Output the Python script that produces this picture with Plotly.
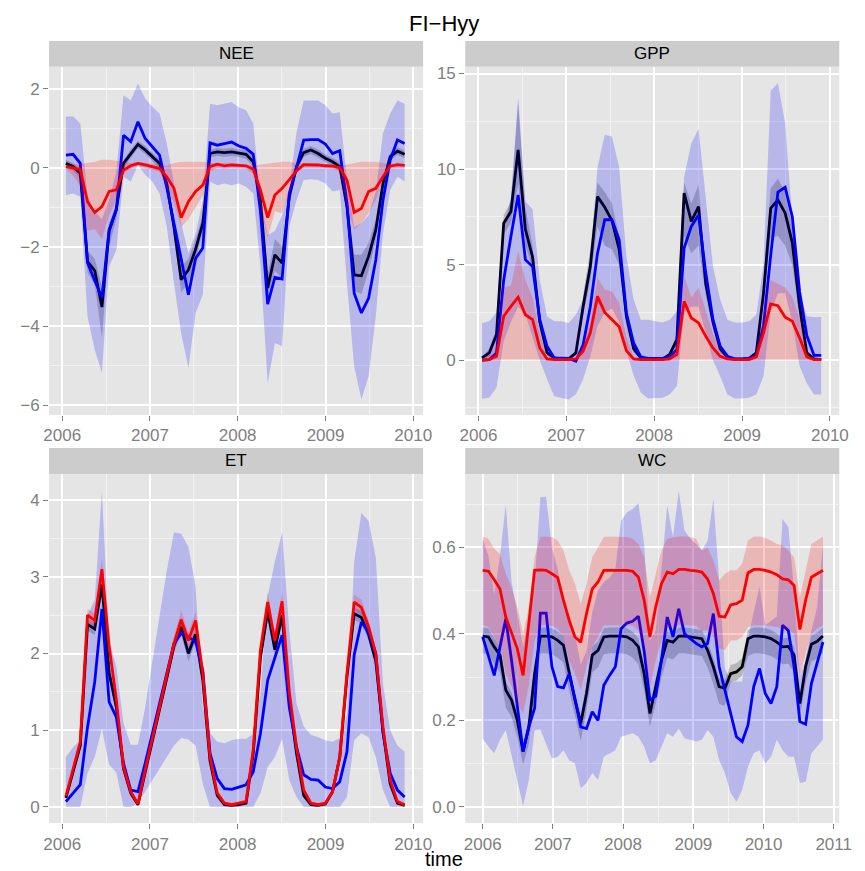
import plotly.graph_objects as go
import pandas as pd

# ---------------- time axes ----------------
t_flux = pd.date_range("2006-01-16", periods=48, freq="30D")
t_wc = pd.date_range("2006-01-01", periods=60, freq="30D")

# ---------------- NEE ----------------
NEE_black = [0.11, 0.03, -0.14, -2.37, -2.6, -3.52, -1.6, -1.05, 0.11, 0.36, 0.59, 0.45, 0.28, 0.11, -0.4, -1.5, -2.83, -2.58, -2.06, -1.4, 0.36, 0.4, 0.38, 0.4, 0.37, 0.34, 0.15, -0.82, -3.04, -2.2, -2.41, -0.73, 0.03, 0.38, 0.45, 0.36, 0.24, 0.15, 0.03, -0.98, -2.71, -2.73, -2.24, -1.57, -0.4, 0.28, 0.42, 0.34]
NEE_black_hi = [0.2, 0.12, -0.02, -2.1, -2.3, -3.0, -1.4, -0.9, 0.2, 0.46, 0.68, 0.55, 0.38, 0.22, -0.25, -1.3, -2.5, -2.3, -1.8, -1.2, 0.46, 0.5, 0.48, 0.5, 0.47, 0.44, 0.27, -0.65, -2.7, -1.8, -2.0, -0.55, 0.13, 0.48, 0.55, 0.46, 0.34, 0.25, 0.15, -0.8, -2.2, -2.2, -1.9, -1.3, -0.28, 0.38, 0.52, 0.44]
NEE_black_lo = [0.0, -0.07, -0.28, -2.65, -2.95, -4.3, -2.0, -1.3, 0.0, 0.26, 0.49, 0.35, 0.17, -0.01, -0.6, -1.75, -3.15, -2.9, -2.35, -1.6, 0.26, 0.3, 0.28, 0.3, 0.27, 0.22, 0.03, -1.0, -3.3, -2.6, -2.8, -0.95, -0.08, 0.28, 0.35, 0.26, 0.14, 0.05, -0.1, -1.2, -3.1, -3.2, -2.6, -1.85, -0.55, 0.18, 0.32, 0.24]
NEE_blue = [0.32, 0.34, 0.11, -2.4, -2.85, -3.28, -1.57, -1.07, 0.82, 0.66, 1.16, 0.74, 0.53, 0.32, -0.5, -1.4, -2.3, -3.21, -2.29, -2.03, 0.63, 0.57, 0.61, 0.65, 0.55, 0.49, 0.34, -1.1, -3.45, -2.77, -2.81, -0.65, 0.0, 0.7, 0.71, 0.71, 0.6, 0.36, 0.43, -0.9, -3.17, -3.67, -3.3, -2.33, -0.82, 0.19, 0.7, 0.61]
NEE_blue_hi = [1.29, 1.3, 1.12, -0.7, -1.1, -1.3, -0.8, -0.1, 1.83, 1.7, 2.13, 1.75, 1.54, 1.37, 0.61, -0.4, -1.4, -2.16, -1.66, -0.82, 1.62, 1.58, 1.62, 1.66, 1.52, 1.45, 1.12, -0.8, -1.7, -1.6, -1.2, -0.5, 0.9, 1.7, 1.7, 1.7, 1.58, 1.37, 1.4, -0.3, -1.5, -1.4, -1.2, -0.6, 0.87, 1.37, 1.7, 1.62]
NEE_blue_lo = [-0.69, -0.65, -0.73, -3.76, -4.6, -5.19, -2.5, -2.08, -0.23, -0.35, 0.07, -0.18, -0.35, -0.65, -1.49, -2.92, -4.18, -5.06, -3.68, -3.2, -0.35, -0.44, -0.4, -0.44, -0.4, -0.48, -0.65, -2.5, -5.44, -4.43, -4.51, -1.49, -0.82, -0.31, -0.29, -0.31, -0.4, -0.6, -0.56, -2.92, -5.02, -5.86, -5.27, -3.76, -1.66, -0.56, -0.23, -0.35]
NEE_red = [0.03, 0.0, -0.04, -0.86, -1.13, -0.98, -0.6, -0.56, -0.06, 0.05, 0.11, 0.07, 0.03, -0.02, -0.23, -0.52, -1.26, -0.86, -0.6, -0.44, 0.03, 0.09, 0.05, 0.07, 0.06, 0.05, -0.04, -0.56, -1.26, -0.69, -0.52, -0.31, -0.08, 0.08, 0.08, 0.07, 0.05, 0.04, 0.0, -0.31, -1.13, -1.03, -0.6, -0.52, -0.23, 0.04, 0.08, 0.06]
NEE_red_hi = [0.05, 0.08, 0.1, 0.12, 0.15, 0.2, 0.2, 0.18, 0.15, 0.12, 0.15, 0.12, 0.1, 0.08, 0.05, 0.12, 0.15, 0.15, 0.15, 0.15, 0.12, 0.12, 0.12, 0.12, 0.1, 0.08, 0.05, 0.08, 0.1, 0.12, 0.15, 0.15, 0.12, 0.12, 0.1, 0.1, 0.1, 0.08, 0.05, 0.08, 0.12, 0.15, 0.15, 0.15, 0.12, 0.1, 0.1, 0.08]
NEE_red_lo = [-0.02, -0.2, -0.45, -1.6, -1.55, -1.8, -1.2, -0.8, -0.15, -0.02, 0.05, 0.0, -0.05, -0.1, -0.5, -0.9, -1.5, -1.3, -1.0, -0.7, -0.1, 0.0, -0.02, 0.0, 0.0, -0.02, -0.15, -0.98, -1.78, -1.1, -1.15, -0.65, -0.1, 0.0, 0.0, 0.0, 0.0, -0.02, -0.1, -0.98, -1.57, -1.4, -1.15, -0.82, -0.3, -0.02, 0.0, 0.0]

# ---------------- GPP ----------------
GPP_black = [0.12, 0.38, 1.34, 7.17, 7.78, 11.0, 6.85, 5.4, 2.0, 0.4, 0.12, 0.07, 0.07, 0.38, 2.8, 4.9, 8.56, 8.0, 7.3, 5.8, 2.3, 0.6, 0.12, 0.05, 0.05, 0.05, 0.3, 1.08, 8.74, 7.26, 8.04, 4.0, 2.0, 0.6, 0.15, 0.05, 0.05, 0.1, 0.38, 3.5, 7.95, 8.39, 7.7, 6.13, 2.82, 0.38, 0.07, 0.03]
GPP_black_hi = [0.2, 0.6, 1.6, 7.6, 8.3, 13.5, 8.0, 6.0, 2.4, 0.55, 0.2, 0.12, 0.12, 0.5, 3.4, 5.8, 9.3, 8.8, 8.2, 6.5, 2.8, 0.8, 0.2, 0.1, 0.1, 0.1, 0.4, 1.4, 9.3, 8.2, 9.2, 4.6, 2.4, 0.8, 0.2, 0.1, 0.1, 0.15, 0.5, 4.0, 9.0, 9.5, 8.8, 7.0, 3.3, 0.5, 0.12, 0.08]
GPP_black_lo = [0.05, 0.2, 1.0, 6.6, 7.2, 9.2, 6.0, 4.8, 1.6, 0.25, 0.05, 0.02, 0.02, 0.25, 2.3, 4.2, 7.0, 6.0, 5.8, 5.0, 1.8, 0.4, 0.05, 0.01, 0.01, 0.01, 0.2, 0.8, 6.5, 5.6, 6.0, 3.4, 1.6, 0.4, 0.1, 0.01, 0.01, 0.05, 0.25, 3.0, 6.4, 6.5, 6.0, 5.0, 2.3, 0.25, 0.02, 0.0]
GPP_blue = [0.0, 0.03, 0.38, 4.2, 6.47, 8.65, 5.26, 4.9, 2.12, 0.73, 0.12, 0.1, 0.09, -0.05, 0.8, 2.8, 5.6, 7.35, 7.35, 6.3, 2.47, 0.9, 0.17, 0.09, 0.09, 0.09, 0.17, 0.56, 5.87, 7.0, 7.6, 4.56, 2.12, 0.73, 0.21, 0.07, 0.07, 0.09, 0.21, 1.8, 5.5, 8.8, 9.05, 7.5, 3.6, 1.3, 0.25, 0.25]
GPP_blue_hi = [1.95, 2.04, 2.5, 7.0, 8.5, 13.8, 8.3, 7.9, 4.2, 2.3, 2.04, 2.04, 1.95, 2.38, 3.17, 5.26, 10.1, 11.8, 11.7, 10.1, 5.43, 3.17, 2.12, 2.12, 2.04, 1.97, 2.12, 2.56, 9.6, 11.35, 12.1, 8.4, 4.9, 3.17, 2.12, 1.97, 1.97, 2.04, 2.38, 5.0, 14.1, 14.5, 12.4, 7.35, 3.5, 2.3, 2.26, 2.26]
GPP_blue_lo = [-2.02, -1.97, -1.44, 1.0, 2.0, 2.8, 2.4, 1.2, 0.0, -1.0, -1.88, -1.95, -2.05, -1.8, -1.0, 0.2, 1.8, 2.5, 2.7, 2.0, 0.5, -0.8, -1.7, -2.0, -1.97, -1.97, -1.8, -1.36, 2.5, 2.8, 2.8, 1.4, 0.0, -0.84, -1.8, -2.0, -2.0, -1.97, -1.8, -0.84, 2.5, 3.5, 3.5, 2.0, -0.3, -1.2, -1.8, -1.8]
GPP_red = [0.0, 0.03, 0.2, 2.3, 2.82, 3.3, 2.38, 2.12, 0.64, 0.07, 0.03, 0.03, 0.03, 0.07, 0.47, 1.43, 3.34, 2.5, 2.1, 1.75, 0.5, 0.07, 0.03, 0.03, 0.03, 0.03, 0.07, 0.3, 3.08, 2.21, 1.95, 1.25, 0.64, 0.2, 0.07, 0.03, 0.03, 0.03, 0.17, 1.43, 2.94, 2.85, 2.25, 2.04, 1.17, 0.17, 0.03, 0.03]
GPP_red_hi = [0.05, 0.3, 0.8, 3.8, 3.9, 5.7, 4.2, 3.3, 1.4, 0.2, 0.05, 0.05, 0.05, 0.15, 0.8, 2.0, 4.3, 3.7, 3.6, 3.0, 1.2, 0.2, 0.05, 0.05, 0.05, 0.05, 0.15, 0.8, 4.4, 3.3, 3.8, 2.6, 1.4, 0.5, 0.1, 0.05, 0.05, 0.05, 0.5, 2.5, 4.2, 4.0, 3.8, 3.3, 2.2, 0.4, 0.05, 0.05]
GPP_red_lo = [0.0, 0.0, 0.0, 0.0, 0.0, 0.0, 0.0, 0.0, 0.0, 0.0, 0.0, 0.0, 0.0, 0.0, 0.0, 0.0, 0.0, 0.0, 0.0, 0.0, 0.0, 0.0, 0.0, 0.0, 0.0, 0.0, 0.0, 0.0, 0.0, 0.0, 0.0, 0.0, 0.0, 0.0, 0.0, 0.0, 0.0, 0.0, 0.0, 0.0, 0.0, 0.0, 0.0, 0.0, 0.0, 0.0, 0.0, 0.0]

# ---------------- ET ----------------
ET_black = [0.12, 0.45, 0.8, 2.38, 2.32, 2.9, 1.75, 1.3, 0.5, 0.18, 0.03, 0.45, 0.88, 1.27, 1.68, 2.1, 2.35, 2.0, 2.25, 1.65, 0.6, 0.15, 0.03, 0.02, 0.03, 0.05, 0.7, 1.95, 2.55, 2.05, 2.5, 1.4, 0.7, 0.15, 0.03, 0.02, 0.04, 0.2, 0.65, 1.7, 2.52, 2.47, 2.25, 1.9, 1.0, 0.3, 0.05, 0.02]
ET_black_hi = [0.15, 0.5, 0.85, 2.45, 2.4, 3.0, 1.85, 1.38, 0.55, 0.2, 0.05, 0.5, 0.93, 1.33, 1.75, 2.18, 2.45, 2.1, 2.35, 1.72, 0.65, 0.18, 0.05, 0.03, 0.05, 0.07, 0.75, 2.02, 2.65, 2.15, 2.6, 1.48, 0.75, 0.18, 0.05, 0.03, 0.05, 0.23, 0.7, 1.77, 2.6, 2.55, 2.33, 1.97, 1.05, 0.33, 0.07, 0.03]
ET_black_lo = [0.09, 0.4, 0.75, 2.3, 2.24, 2.8, 1.65, 1.22, 0.45, 0.15, 0.01, 0.4, 0.83, 1.21, 1.61, 2.02, 2.25, 1.9, 2.15, 1.58, 0.55, 0.12, 0.01, 0.01, 0.01, 0.03, 0.65, 1.88, 2.45, 1.95, 2.4, 1.32, 0.65, 0.12, 0.01, 0.01, 0.03, 0.17, 0.6, 1.63, 2.44, 2.39, 2.17, 1.83, 0.95, 0.27, 0.03, 0.01]
ET_blue = [0.07, 0.18, 0.29, 1.04, 1.63, 2.58, 1.37, 1.17, 0.57, 0.22, 0.2, 0.57, 0.96, 1.35, 1.74, 2.13, 2.26, 2.22, 2.15, 1.78, 0.7, 0.37, 0.24, 0.23, 0.26, 0.29, 0.46, 0.96, 1.65, 1.93, 2.24, 1.3, 0.78, 0.42, 0.36, 0.35, 0.26, 0.24, 0.33, 0.72, 1.98, 2.41, 2.28, 2.0, 0.96, 0.44, 0.22, 0.13]
ET_blue_hi = [0.65, 0.78, 0.87, 2.5, 2.7, 4.12, 2.17, 1.83, 1.09, 0.81, 0.81, 1.3, 1.9, 2.52, 3.08, 3.58, 3.56, 3.39, 2.87, 1.3, 0.96, 0.85, 0.83, 0.87, 0.89, 0.89, 0.95, 1.5, 2.75, 3.2, 3.58, 2.3, 1.35, 1.05, 0.94, 0.91, 0.87, 0.85, 0.9, 1.2, 3.2, 3.83, 3.73, 3.25, 1.6, 1.0, 0.8, 0.72]
ET_blue_lo = [0.0, 0.0, 0.0, 0.44, 0.65, 1.02, 0.55, 0.45, 0.0, 0.0, 0.05, 0.2, 0.35, 0.5, 0.65, 0.8, 0.9, 0.88, 0.8, 0.3, 0.0, 0.0, 0.0, 0.0, 0.0, 0.0, 0.0, 0.18, 0.52, 0.65, 0.89, 0.35, 0.13, 0.0, 0.0, 0.0, 0.0, 0.0, 0.0, 0.13, 0.87, 0.96, 0.91, 0.65, 0.22, 0.0, 0.0, 0.0]
ET_red = [0.14, 0.5, 0.85, 2.5, 2.43, 3.1, 2.1, 1.4, 0.52, 0.2, 0.04, 0.48, 0.91, 1.3, 1.72, 2.13, 2.44, 2.17, 2.43, 1.74, 0.65, 0.18, 0.05, 0.03, 0.05, 0.07, 0.75, 2.05, 2.67, 2.17, 2.68, 1.5, 0.78, 0.22, 0.05, 0.03, 0.05, 0.2, 0.65, 1.74, 2.67, 2.6, 2.35, 2.0, 1.04, 0.35, 0.07, 0.03]
ET_red_hi = [0.17, 0.55, 0.9, 2.58, 2.52, 3.25, 2.2, 1.47, 0.57, 0.23, 0.06, 0.52, 0.96, 1.36, 1.79, 2.22, 2.56, 2.27, 2.55, 1.82, 0.7, 0.21, 0.07, 0.05, 0.07, 0.1, 0.8, 2.13, 2.8, 2.27, 2.8, 1.58, 0.83, 0.25, 0.07, 0.05, 0.07, 0.23, 0.7, 1.82, 2.77, 2.7, 2.43, 2.07, 1.1, 0.38, 0.09, 0.05]
ET_red_lo = [0.11, 0.45, 0.8, 2.42, 2.34, 2.95, 2.0, 1.33, 0.47, 0.17, 0.02, 0.44, 0.86, 1.24, 1.65, 2.04, 2.32, 2.07, 2.31, 1.66, 0.6, 0.15, 0.03, 0.01, 0.03, 0.04, 0.7, 1.97, 2.54, 2.07, 2.56, 1.42, 0.73, 0.19, 0.03, 0.01, 0.03, 0.17, 0.6, 1.66, 2.57, 2.5, 2.27, 1.93, 0.98, 0.32, 0.05, 0.01]

# ---------------- WC ----------------
WC_black = [0.395, 0.393, 0.37, 0.351, 0.27, 0.247, 0.2, 0.128, 0.185, 0.308, 0.395, 0.395, 0.393, 0.385, 0.374, 0.308, 0.247, 0.193, 0.262, 0.351, 0.362, 0.393, 0.395, 0.395, 0.395, 0.393, 0.385, 0.37, 0.308, 0.216, 0.278, 0.339, 0.385, 0.381, 0.395, 0.395, 0.393, 0.391, 0.389, 0.362, 0.324, 0.278, 0.274, 0.308, 0.312, 0.324, 0.389, 0.395, 0.395, 0.393, 0.389, 0.381, 0.37, 0.371, 0.351, 0.239, 0.324, 0.376, 0.383, 0.395]
WC_black_hi = [0.415, 0.413, 0.39, 0.37, 0.29, 0.265, 0.22, 0.145, 0.205, 0.328, 0.415, 0.415, 0.413, 0.405, 0.395, 0.328, 0.267, 0.213, 0.282, 0.371, 0.382, 0.413, 0.415, 0.415, 0.415, 0.413, 0.405, 0.39, 0.328, 0.236, 0.298, 0.359, 0.405, 0.401, 0.415, 0.415, 0.413, 0.411, 0.409, 0.382, 0.344, 0.298, 0.294, 0.328, 0.332, 0.344, 0.409, 0.415, 0.415, 0.413, 0.409, 0.401, 0.39, 0.391, 0.371, 0.259, 0.344, 0.396, 0.403, 0.415]
WC_black_lo = [0.355, 0.353, 0.33, 0.311, 0.23, 0.207, 0.16, 0.098, 0.145, 0.268, 0.355, 0.355, 0.353, 0.345, 0.334, 0.268, 0.207, 0.153, 0.222, 0.311, 0.322, 0.353, 0.355, 0.355, 0.355, 0.353, 0.345, 0.33, 0.268, 0.186, 0.238, 0.299, 0.345, 0.341, 0.355, 0.355, 0.353, 0.351, 0.349, 0.322, 0.284, 0.238, 0.234, 0.288, 0.292, 0.304, 0.349, 0.355, 0.355, 0.353, 0.349, 0.341, 0.33, 0.331, 0.311, 0.209, 0.284, 0.336, 0.343, 0.355]
WC_blue = [0.393, 0.351, 0.304, 0.37, 0.435, 0.339, 0.231, 0.128, 0.185, 0.228, 0.448, 0.448, 0.324, 0.278, 0.275, 0.308, 0.25, 0.185, 0.181, 0.22, 0.2, 0.281, 0.304, 0.324, 0.412, 0.425, 0.429, 0.441, 0.36, 0.247, 0.256, 0.339, 0.439, 0.393, 0.458, 0.4, 0.389, 0.378, 0.37, 0.378, 0.447, 0.324, 0.27, 0.216, 0.162, 0.151, 0.189, 0.278, 0.32, 0.262, 0.239, 0.278, 0.42, 0.408, 0.324, 0.197, 0.191, 0.285, 0.331, 0.381]
WC_blue_hi = [0.62, 0.58, 0.49, 0.58, 0.7, 0.52, 0.447, 0.37, 0.44, 0.516, 0.716, 0.717, 0.6, 0.55, 0.48, 0.44, 0.4, 0.33, 0.36, 0.45, 0.5, 0.52, 0.53, 0.55, 0.662, 0.681, 0.689, 0.702, 0.608, 0.385, 0.408, 0.55, 0.697, 0.624, 0.731, 0.639, 0.62, 0.608, 0.593, 0.616, 0.712, 0.524, 0.32, 0.29, 0.29, 0.29, 0.39, 0.45, 0.51, 0.42, 0.43, 0.44, 0.666, 0.647, 0.5, 0.3, 0.339, 0.408, 0.462, 0.608]
WC_blue_lo = [0.158, 0.139, 0.124, 0.155, 0.178, 0.12, 0.062, 0.002, 0.062, 0.178, 0.179, 0.147, 0.112, 0.116, 0.131, 0.108, 0.1, 0.043, 0.055, 0.078, 0.062, 0.116, 0.124, 0.131, 0.162, 0.166, 0.17, 0.162, 0.139, 0.1, 0.108, 0.139, 0.17, 0.162, 0.181, 0.158, 0.155, 0.151, 0.155, 0.178, 0.162, 0.108, 0.078, 0.032, 0.012, 0.039, 0.093, 0.124, 0.131, 0.1, 0.116, 0.155, 0.131, 0.116, 0.116, 0.055, 0.058, 0.124, 0.139, 0.155]
WC_red = [0.547, 0.545, 0.525, 0.504, 0.439, 0.4, 0.366, 0.304, 0.424, 0.547, 0.548, 0.547, 0.539, 0.53, 0.478, 0.431, 0.393, 0.381, 0.447, 0.504, 0.52, 0.547, 0.547, 0.547, 0.547, 0.547, 0.545, 0.531, 0.478, 0.393, 0.462, 0.516, 0.543, 0.539, 0.549, 0.549, 0.547, 0.546, 0.543, 0.527, 0.493, 0.441, 0.439, 0.467, 0.47, 0.478, 0.541, 0.549, 0.549, 0.547, 0.543, 0.537, 0.527, 0.525, 0.512, 0.41, 0.478, 0.531, 0.539, 0.547]
WC_red_hi = [0.625, 0.62, 0.597, 0.585, 0.539, 0.508, 0.462, 0.4, 0.462, 0.577, 0.624, 0.625, 0.624, 0.616, 0.593, 0.547, 0.516, 0.47, 0.516, 0.577, 0.6, 0.624, 0.625, 0.625, 0.625, 0.624, 0.62, 0.608, 0.577, 0.485, 0.539, 0.593, 0.62, 0.622, 0.625, 0.625, 0.624, 0.62, 0.593, 0.6, 0.57, 0.524, 0.539, 0.547, 0.547, 0.562, 0.616, 0.625, 0.625, 0.622, 0.616, 0.608, 0.605, 0.593, 0.577, 0.485, 0.547, 0.608, 0.616, 0.625]
WC_red_lo = [0.42, 0.416, 0.393, 0.37, 0.308, 0.278, 0.239, 0.216, 0.28, 0.385, 0.42, 0.42, 0.418, 0.412, 0.393, 0.339, 0.308, 0.27, 0.324, 0.37, 0.393, 0.42, 0.42, 0.42, 0.42, 0.42, 0.418, 0.408, 0.37, 0.278, 0.339, 0.385, 0.414, 0.416, 0.42, 0.42, 0.42, 0.418, 0.408, 0.408, 0.393, 0.366, 0.362, 0.385, 0.385, 0.393, 0.416, 0.42, 0.42, 0.42, 0.418, 0.416, 0.412, 0.41, 0.4, 0.3, 0.354, 0.4, 0.412, 0.42]

# ---------------- tick labels ----------------
year_ticks_4 = ["2006", "2007", "2008", "2009", "2010"]
year_ticks_5 = ["2006", "2007", "2008", "2009", "2010", "2011"]
NEE_yticks = [-6, -4, -2, 0, 2]
GPP_yticks = [0, 5, 10, 15]
ET_yticks = [0, 1, 2, 3, 4]
WC_yticks = [0.0, 0.2, 0.4, 0.6]

panels = [
    dict(name="NEE", t=t_flux, k="", black=NEE_black, bhi=NEE_black_hi, blo=NEE_black_lo,
         blue=NEE_blue, uhi=NEE_blue_hi, ulo=NEE_blue_lo, red=NEE_red, rhi=NEE_red_hi, rlo=NEE_red_lo),
    dict(name="GPP", t=t_flux, k="2", black=GPP_black, bhi=GPP_black_hi, blo=GPP_black_lo,
         blue=GPP_blue, uhi=GPP_blue_hi, ulo=GPP_blue_lo, red=GPP_red, rhi=GPP_red_hi, rlo=GPP_red_lo),
    dict(name="ET", t=t_flux, k="3", black=ET_black, bhi=ET_black_hi, blo=ET_black_lo,
         blue=ET_blue, uhi=ET_blue_hi, ulo=ET_blue_lo, red=ET_red, rhi=ET_red_hi, rlo=ET_red_lo),
    dict(name="WC", t=t_wc, k="4", black=WC_black, bhi=WC_black_hi, blo=WC_black_lo,
         blue=WC_blue, uhi=WC_blue_hi, ulo=WC_blue_lo, red=WC_red, rhi=WC_red_hi, rlo=WC_red_lo),
]

for p in panels:
    n = len(p["t"])
    for key in ["black", "bhi", "blo", "blue", "uhi", "ulo", "red", "rhi", "rlo"]:
        assert len(p[key]) == n, (p["name"], key, len(p[key]))

fig = go.Figure()


def ribbon(t, lo, hi, color, k):
    xs = list(t) + list(t[::-1])
    ys = list(hi) + list(lo[::-1])
    return go.Scatter(x=xs, y=ys, fill="toself", fillcolor=color, mode="lines",
                      line=dict(width=0, color=color), hoverinfo="skip", showlegend=False,
                      xaxis="x" + k, yaxis="y" + k)


def line(t, y, color, k):
    return go.Scatter(x=list(t), y=y, mode="lines", line=dict(color=color, width=2.8),
                      showlegend=False, xaxis="x" + k, yaxis="y" + k)


for p in panels:
    k, t = p["k"], p["t"]
    fig.add_trace(ribbon(t, p["blo"], p["bhi"], "rgba(0,0,0,0.2)", k))
    fig.add_trace(line(t, p["black"], "black", k))
    fig.add_trace(ribbon(t, p["ulo"], p["uhi"], "rgba(0,0,255,0.2)", k))
    fig.add_trace(line(t, p["blue"], "#0000FF", k))
    fig.add_trace(ribbon(t, p["rlo"], p["rhi"], "rgba(255,0,0,0.2)", k))
    fig.add_trace(line(t, p["red"], "#FF0000", k))

W, H = 865, 871


def xd(a, b):
    return [a / W, b / W]


def yd(top, bottom):
    return [1 - bottom / H, 1 - top / H]


TICKC = "#7F7F7F"
common_x = dict(type="date", showgrid=True, gridcolor="white", gridwidth=1.6, zeroline=False,
                showline=False, ticks="outside", ticklen=5, tickwidth=1, tickcolor=TICKC,
                tickfont=dict(size=17, color=TICKC), fixedrange=True)
common_y = dict(showgrid=True, gridcolor="white", gridwidth=1.6, zeroline=False, showline=False,
                ticks="outside", ticklen=5, tickwidth=1, tickcolor=TICKC,
                tickfont=dict(size=17, color=TICKC), fixedrange=True)

yr4 = ["2006-01-01", "2007-01-01", "2008-01-01", "2009-01-01", "2010-01-01"]
yr5 = yr4 + ["2011-01-01"]
mid4 = ["2006-07-02", "2007-07-02", "2008-07-02", "2009-07-02"]
mid5 = mid4 + ["2010-07-02"]

minor_style = dict(showgrid=True, gridcolor="#F2F2F2", gridwidth=0.8, ticks="")

fig.update_layout(
    width=W, height=H, margin=dict(l=0, r=0, t=0, b=0),
    paper_bgcolor="white", plot_bgcolor="#E5E5E5", showlegend=False,
    font=dict(family="Liberation Sans, Arial, sans-serif"),
    xaxis=dict(common_x, domain=xd(45, 427), range=["2005-11-07", "2010-02-11"], anchor="y",
               tickvals=yr4, ticktext=year_ticks_4, minor=dict(minor_style, tickvals=mid4)),
    yaxis=dict(common_y, domain=yd(65, 414), range=[-6.25, 2.55], anchor="x",
               tickvals=NEE_yticks, minor=dict(minor_style, tickvals=[-5, -3, -1, 1])),
    xaxis2=dict(common_x, domain=xd(470, 852), range=["2005-11-07", "2010-02-09"], anchor="y2",
                tickvals=yr4, ticktext=year_ticks_4, minor=dict(minor_style, tickvals=mid4)),
    yaxis2=dict(common_y, domain=yd(65, 414), range=[-2.87, 15.35], anchor="x2",
                tickvals=GPP_yticks, minor=dict(minor_style, tickvals=[-2.5, 2.5, 7.5, 12.5])),
    xaxis3=dict(common_x, domain=xd(45, 427), range=["2005-11-07", "2010-02-11"], anchor="y3",
                tickvals=yr4, ticktext=year_ticks_4, minor=dict(minor_style, tickvals=mid4)),
    yaxis3=dict(common_y, domain=yd(473, 823), range=[-0.21, 4.34], anchor="x3",
                tickvals=ET_yticks, minor=dict(minor_style, tickvals=[0.5, 1.5, 2.5, 3.5])),
    xaxis4=dict(common_x, domain=xd(470, 852), range=["2005-10-02", "2011-01-30"], anchor="y4",
                tickvals=yr5, ticktext=year_ticks_5, minor=dict(minor_style, tickvals=mid5)),
    yaxis4=dict(common_y, domain=yd(473, 823), range=[-0.0376, 0.77], anchor="x4",
                tickvals=WC_yticks, tickformat=".1f", minor=dict(minor_style, tickvals=[0.1, 0.3, 0.5, 0.7])),
)

# strips
strips = [("NEE", 45, 427, 39, 65), ("GPP", 470, 852, 39, 65),
          ("ET", 45, 427, 447, 473), ("WC", 470, 852, 447, 473)]
for label, x0, x1, y0, y1 in strips:
    fig.add_shape(type="rect", xref="paper", yref="paper", x0=x0 / W, x1=x1 / W,
                  y0=1 - y1 / H, y1=1 - y0 / H, fillcolor="#CCCCCC", line=dict(width=0), layer="below")
    fig.add_annotation(text=label, xref="paper", yref="paper", x=(x0 + x1) / 2 / W,
                       y=1 - (y0 + y1) / 2 / H, xanchor="center", yanchor="middle",
                       showarrow=False, font=dict(size=17, color="black"))

fig.add_annotation(text="FI\u2212Hyy", xref="paper", yref="paper", x=448.5 / W, y=1 - 22 / H,
                   xanchor="center", yanchor="middle", showarrow=False,
                   font=dict(size=22, color="black"))
fig.add_annotation(text="time", xref="paper", yref="paper", x=448.5 / W, y=1 - 859 / H,
                   xanchor="center", yanchor="middle", showarrow=False,
                   font=dict(size=20, color="black"))

fig.write_html("out.html")
